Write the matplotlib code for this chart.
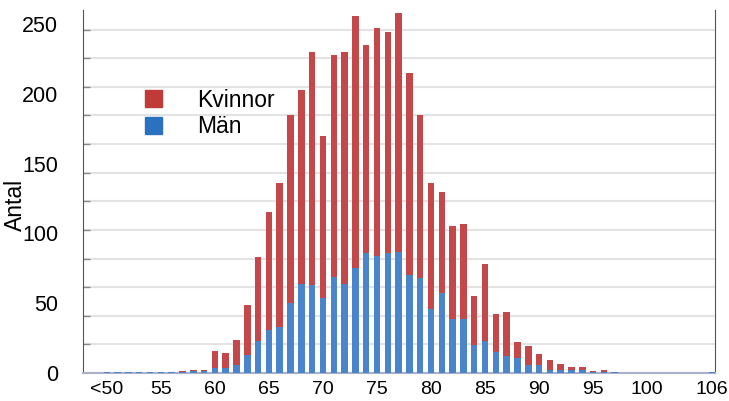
import numpy as np
from matplotlib import pyplot as plt
from matplotlib.patches import Patch

plt.rcParams['font.family'] = ['Liberation Sans', 'DejaVu Sans']

# age groups: first is "<50", then 51..106
ages = np.arange(50, 107)
total = [1, 1, 0.5, 0.5, 1, 0.5, 0.5, 1.5, 2.5, 2.5,
         16, 14.5, 23.5, 49, 83, 115, 136, 185, 203, 230,
         170, 228, 230, 256, 235, 247, 244, 258, 215, 185,
         136, 130, 105, 107, 55, 78, 42, 43.5, 22.5, 19,
         13.5, 9, 6.5, 4.5, 4.5, 1.5, 2, 1, 0, 0,
         0, 0, 0, 0, 0, 0, 0.5]
men = [1, 0.5, 0.5, 0.5, 0.5, 0.5, 0.5, 1, 1.5, 1.5,
       3.5, 3.5, 5.7, 13, 23, 31, 33, 50, 64, 63,
       54, 69, 64, 75, 86, 84, 86, 87, 70, 68,
       46, 57, 39, 39, 20, 23, 15, 12, 11, 6,
       6, 2.5, 2, 2, 2, 1, 1, 0.5, 0, 0,
       0, 0, 0, 0, 0, 0, 0.5]
women = np.array(total) - np.array(men)

tick_pos = [50, 55, 60, 65, 70, 75, 80, 85, 90, 95, 100, 106]
tick_labels = ['<50', '55', '60', '65', '70', '75', '80', '85', '90', '95', '100', '106']

red = '#c4484a'
blue = '#4a85cc'

fig = plt.figure(figsize=(7.29, 4.01), dpi=100)
ax = fig.add_axes([0.1139, 0.0698, 0.8672, 0.905])

ax.bar(ages, men, width=0.6, color=blue, zorder=3)
ax.bar(ages, women, width=0.6, bottom=men, color=red, zorder=3)

ax.set_xlim(47.8, 106.3)
ax.set_ylim(0, 260)

# light grid lines with small marks on the axis
grid_y = np.arange(20.5, 255, 20.5)
ax.set_yticks(grid_y, minor=True)
for g in grid_y:
    ax.axhline(g, color='#e3e3e3', lw=1.5, zorder=1)
ax.tick_params(axis='y', which='minor', length=5, direction='in', color='#888888', width=1)

ax.set_yticks([0, 50, 100, 150, 200, 250])
ax.tick_params(axis='y', which='major', length=0, pad=18, labelsize=15.5)
ax.set_xticks(tick_pos, tick_labels)
ax.tick_params(axis='x', length=0, pad=6, labelsize=14)

ax.spines['top'].set_visible(False)
ax.spines['left'].set_color('#555555')
ax.spines['right'].set_color('#555555')
ax.spines['bottom'].set_color('#aab0cc')
ax.spines['bottom'].set_linewidth(1.5)

ax.set_ylabel('Antal', fontsize=16.5)
ax.yaxis.set_label_coords(-0.088, 0.463)

handles = [Patch(color='#c03a38'), Patch(color='#2a72c0')]
ax.legend(handles, ['Kvinnor', 'Män'], loc='upper left', bbox_to_anchor=(0.08, 0.815),
          frameon=False, fontsize=16.5, handlelength=0.75, handleheight=0.75,
          handletextpad=1.5, labelspacing=0.15, borderpad=0)

fig.savefig('out.png', dpi=100)
